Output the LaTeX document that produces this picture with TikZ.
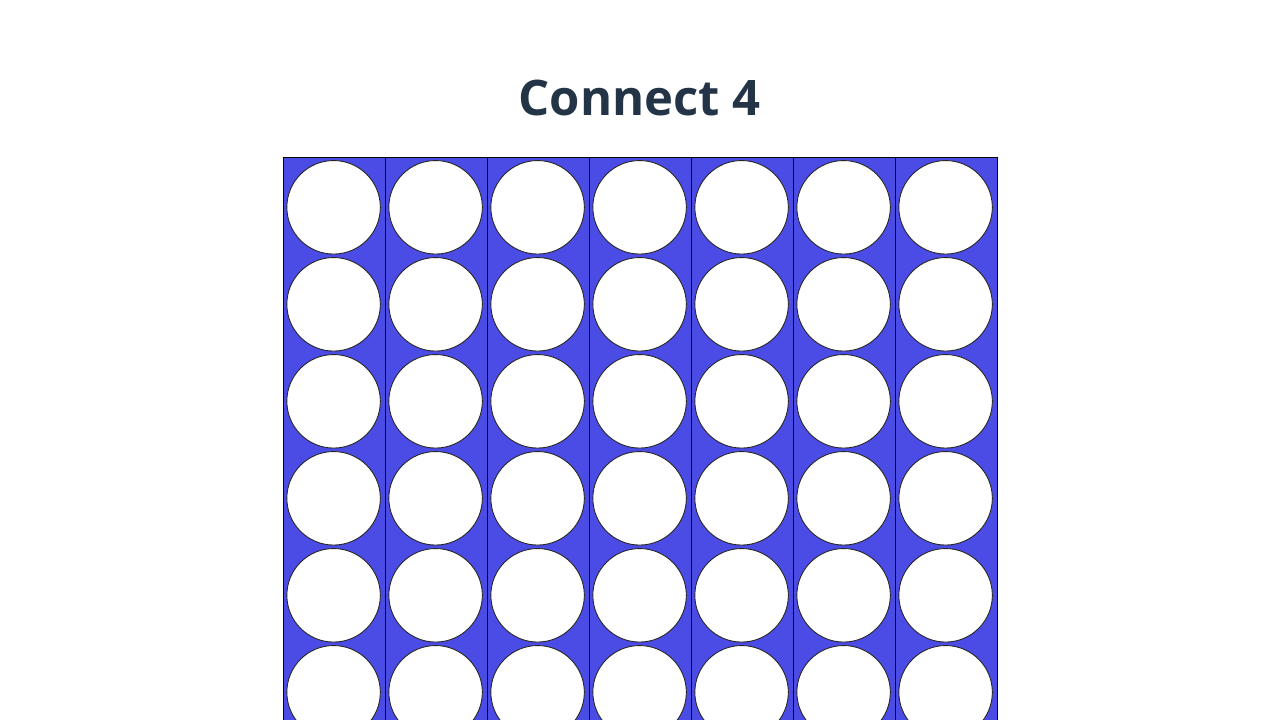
\documentclass[tikz,border=0pt]{standalone}
\usepackage{fontspec}
\setmainfont{Open Sans}
\definecolor{boardblue}{RGB}{75,75,229}
\definecolor{titlecol}{RGB}{35,52,71}
\tikzset{
  columnfill/.style={fill=boardblue},
  columnedge/.style={draw=black, line width=1.6pt},
  hole/.style={circle, draw=black!85, line width=0.9pt, fill=white, minimum size=93.5pt, inner sep=0pt},
  title/.style={font=\fontsize{49}{59}\selectfont\bfseries, text=titlecol}
}
\begin{document}
\begin{tikzpicture}[x=1pt,y=-1pt]
\useasboundingbox (0,0) rectangle (1280,720);
\clip (0,0) rectangle (1280,720);
\node[title] (title) at (639.5,97.5) {Connect 4};
\foreach \c in {0,...,6}{
  \path[columnfill] ({283.5+102*\c},157.5) rectangle ({283.5+102*(\c+1)},760);
}
\foreach \c in {0,...,6}{
  \path[columnedge] ({283.5+102*\c},157.5) rectangle ({283.5+102*(\c+1)},760);
}
\foreach \c in {0,...,6}{
  \foreach \r in {0,...,5}{
    \node[hole] (h\c\r) at ({333.6+102*\c},{207.3+97*\r}) {};
  }
}
\end{tikzpicture}
\end{document}
